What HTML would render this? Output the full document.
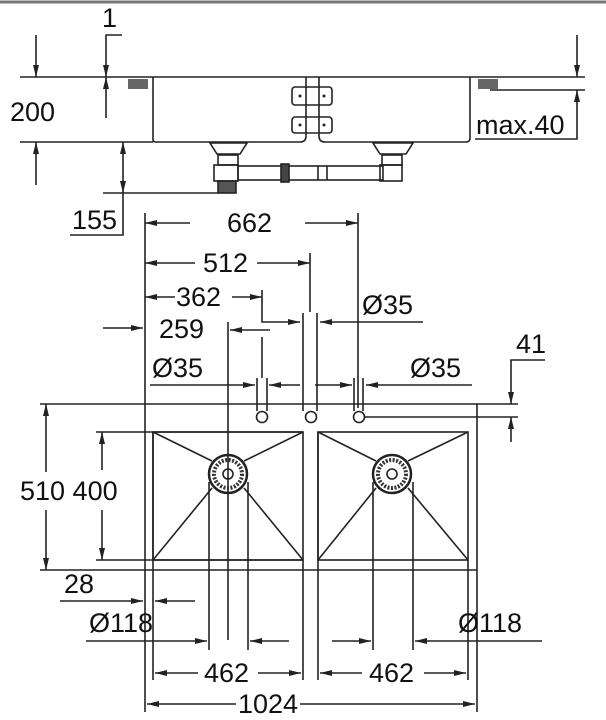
<!DOCTYPE html>
<html><head><meta charset="utf-8"><style>
html,body{margin:0;padding:0;background:#fff;}
svg{display:block;}
text{font-family:"Liberation Sans",sans-serif;font-size:27px;fill:#111;}
</style></head><body>
<svg width="606" height="720" viewBox="0 0 606 720" xmlns="http://www.w3.org/2000/svg">
<defs>
<marker id="a" viewBox="0 0 12 6" refX="12" refY="3" markerWidth="12" markerHeight="6" markerUnits="userSpaceOnUse" orient="auto"><path d="M0,0 L12,3 L0,6 Z" fill="#222"/></marker>
</defs>
<g stroke="#222" stroke-width="1.6" fill="none">
<line x1="0" y1="2" x2="606" y2="2" stroke="#777" stroke-width="3"/>
<line x1="20" y1="77" x2="585" y2="77"/>
<line x1="20" y1="142" x2="153" y2="142"/>
<line x1="490" y1="90" x2="585" y2="90"/>
<path d="M153,77 V140 Q153,142 156,142 H300 Q306,142 306,136 V77"/>
<path d="M319,77 V136 Q319,142 325,142 H466 Q470,142 470,138 V77"/>
<rect x="292" y="87" width="40" height="18" rx="3"/>
<rect x="292" y="117" width="40" height="16" rx="3"/>
<rect x="128" y="79" width="20" height="10" fill="#666" stroke="none"/>
<rect x="478" y="79" width="20" height="10" fill="#666" stroke="none"/>
<path d="M210,143 H247 L240,154 H217 Z"/>
<rect x="218" y="155" width="20" height="10"/>
<rect x="214" y="165" width="24" height="16"/>
<rect x="218" y="181" width="18" height="12" fill="#555"/>
<path d="M373,143 H413 L406,154 H380 Z"/>
<rect x="382" y="155" width="20" height="10"/>
<rect x="380" y="165" width="22" height="16"/>
<rect x="238" y="166" width="145" height="14"/>
<rect x="281" y="164" width="8" height="18" fill="#444"/>
<line x1="318" y1="166" x2="318" y2="180"/><line x1="327" y1="166" x2="327" y2="180"/>
<line x1="36" y1="35" x2="36" y2="77" marker-end="url(#a)"/>
<line x1="36" y1="185" x2="36" y2="142" marker-end="url(#a)"/>
<path d="M122,35 H106 V77" marker-end="url(#a)"/>
<line x1="106" y1="118" x2="106" y2="77" marker-end="url(#a)"/>
<line x1="577" y1="35" x2="577" y2="77" marker-end="url(#a)"/>
<path d="M475,139 H577 V90" marker-end="url(#a)"/>
<line x1="123" y1="170" x2="123" y2="142" marker-end="url(#a)"/>
<path d="M123,170 V193" marker-end="url(#a)"/>
<line x1="103" y1="193" x2="218" y2="193"/>
<path d="M70,235 H123 V193"/>
<line x1="145" y1="213" x2="145" y2="712"/>
<line x1="358" y1="213" x2="358" y2="408"/>
<line x1="310" y1="253" x2="310" y2="312"/>
<path d="M262,290 V322 H300" marker-end="url(#a)"/>
<line x1="423" y1="322" x2="320" y2="322" marker-end="url(#a)"/>
<line x1="303" y1="313" x2="303" y2="411"/><line x1="317" y1="313" x2="317" y2="411"/>
<line x1="257" y1="378" x2="257" y2="411"/><line x1="267" y1="378" x2="267" y2="411"/>
<line x1="354" y1="378" x2="354" y2="411"/><line x1="363" y1="378" x2="363" y2="411"/>
<line x1="262" y1="337" x2="262" y2="378"/>
<circle cx="262" cy="417" r="5.5"/><circle cx="311" cy="417" r="5.5"/><circle cx="359" cy="417" r="5.5"/>
<line x1="365" y1="417" x2="518" y2="417"/>
<line x1="190" y1="223" x2="145" y2="223" marker-end="url(#a)"/>
<line x1="305" y1="223" x2="358" y2="223" marker-end="url(#a)"/>
<line x1="195" y1="263" x2="145" y2="263" marker-end="url(#a)"/>
<line x1="257" y1="263" x2="310" y2="263" marker-end="url(#a)"/>
<line x1="175" y1="297" x2="145" y2="297" marker-end="url(#a)"/>
<line x1="232" y1="297" x2="262" y2="297" marker-end="url(#a)"/>
<line x1="228" y1="322" x2="228" y2="640"/>
<line x1="270" y1="330" x2="230" y2="330" marker-end="url(#a)"/>
<line x1="103" y1="328" x2="143" y2="328" marker-end="url(#a)"/>
<line x1="150" y1="385" x2="255" y2="385" marker-end="url(#a)"/>
<line x1="300" y1="385" x2="269" y2="385" marker-end="url(#a)"/>
<line x1="315" y1="385" x2="352" y2="385" marker-end="url(#a)"/>
<line x1="472" y1="385" x2="366" y2="385" marker-end="url(#a)"/>
<line x1="40" y1="404" x2="518" y2="404"/>
<line x1="40" y1="570" x2="477" y2="570"/>
<line x1="477" y1="404" x2="477" y2="712"/>
<path d="M545,360 H511 V404" marker-end="url(#a)"/>
<line x1="511" y1="442" x2="511" y2="417" marker-end="url(#a)"/>
<line x1="96" y1="432" x2="303" y2="432"/>
<line x1="96" y1="560" x2="303" y2="560"/>
<line x1="46" y1="472" x2="46" y2="404" marker-end="url(#a)"/>
<line x1="46" y1="510" x2="46" y2="570" marker-end="url(#a)"/>
<line x1="102" y1="470" x2="102" y2="432" marker-end="url(#a)"/>
<line x1="102" y1="510" x2="102" y2="560" marker-end="url(#a)"/>
<rect x="153" y="432" width="150" height="128"/>
<rect x="318" y="432" width="150" height="128"/>
<line x1="153" y1="432" x2="153" y2="680"/>
<line x1="318" y1="432" x2="318" y2="680"/>
<line x1="303" y1="560" x2="303" y2="680"/>
<line x1="468" y1="560" x2="468" y2="680"/>
<line x1="209" y1="482" x2="209" y2="650"/><line x1="248" y1="482" x2="248" y2="650"/>
<line x1="373" y1="482" x2="373" y2="650"/><line x1="413" y1="482" x2="413" y2="650"/>
<line x1="153" y1="432" x2="212" y2="461"/><line x1="303" y1="432" x2="244" y2="461"/>
<line x1="153" y1="560" x2="212" y2="488"/><line x1="303" y1="560" x2="244" y2="488"/>
<line x1="318" y1="432" x2="376" y2="461"/><line x1="468" y1="432" x2="408" y2="461"/>
<line x1="318" y1="560" x2="376" y2="488"/><line x1="468" y1="560" x2="408" y2="488"/>
<circle cx="228" cy="474" r="19" stroke-width="2.5"/><circle cx="228" cy="474" r="14" stroke-width="4" stroke="#333" stroke-dasharray="2 1.5"/><circle cx="228" cy="474" r="5"/>
<circle cx="392" cy="474" r="19" stroke-width="2.5"/><circle cx="392" cy="474" r="14" stroke-width="4" stroke="#333" stroke-dasharray="2 1.5"/><circle cx="392" cy="474" r="5"/>
<line x1="60" y1="601" x2="143" y2="601" marker-end="url(#a)"/>
<line x1="195" y1="601" x2="155" y2="601" marker-end="url(#a)"/>
<line x1="86" y1="641" x2="207" y2="641" marker-end="url(#a)"/>
<line x1="289" y1="641" x2="250" y2="641" marker-end="url(#a)"/>
<line x1="332" y1="641" x2="371" y2="641" marker-end="url(#a)"/>
<line x1="542" y1="641" x2="415" y2="641" marker-end="url(#a)"/>
<line x1="198" y1="673" x2="155" y2="673" marker-end="url(#a)"/>
<line x1="258" y1="673" x2="301" y2="673" marker-end="url(#a)"/>
<line x1="362" y1="673" x2="320" y2="673" marker-end="url(#a)"/>
<line x1="424" y1="673" x2="466" y2="673" marker-end="url(#a)"/>
<line x1="236" y1="704" x2="147" y2="704" marker-end="url(#a)"/>
<line x1="300" y1="704" x2="475" y2="704" marker-end="url(#a)"/>
</g>
<g fill="#222">
<circle cx="300" cy="96" r="1.5"/><circle cx="324" cy="96" r="1.5"/><circle cx="300" cy="125" r="1.5"/><circle cx="324" cy="125" r="1.5"/>
</g>
<g>
<text x="102" y="27">1</text>
<text x="10" y="121">200</text>
<text x="476" y="134">max.40</text>
<text x="72" y="229">155</text>
<text x="227" y="232">662</text>
<text x="203" y="272">512</text>
<text x="176" y="306">362</text>
<text x="362" y="314">Ø35</text>
<text x="159" y="338">259</text>
<text x="516" y="353">41</text>
<text x="152" y="377">Ø35</text>
<text x="410" y="377">Ø35</text>
<text x="20" y="500">510 400</text>
<text x="64" y="593">28</text>
<text x="89" y="632">Ø118</text>
<text x="458" y="632">Ø118</text>
<text x="204" y="682">462</text>
<text x="369" y="682">462</text>
<text x="238" y="713">1024</text>
</g>
</svg>
</body></html>
